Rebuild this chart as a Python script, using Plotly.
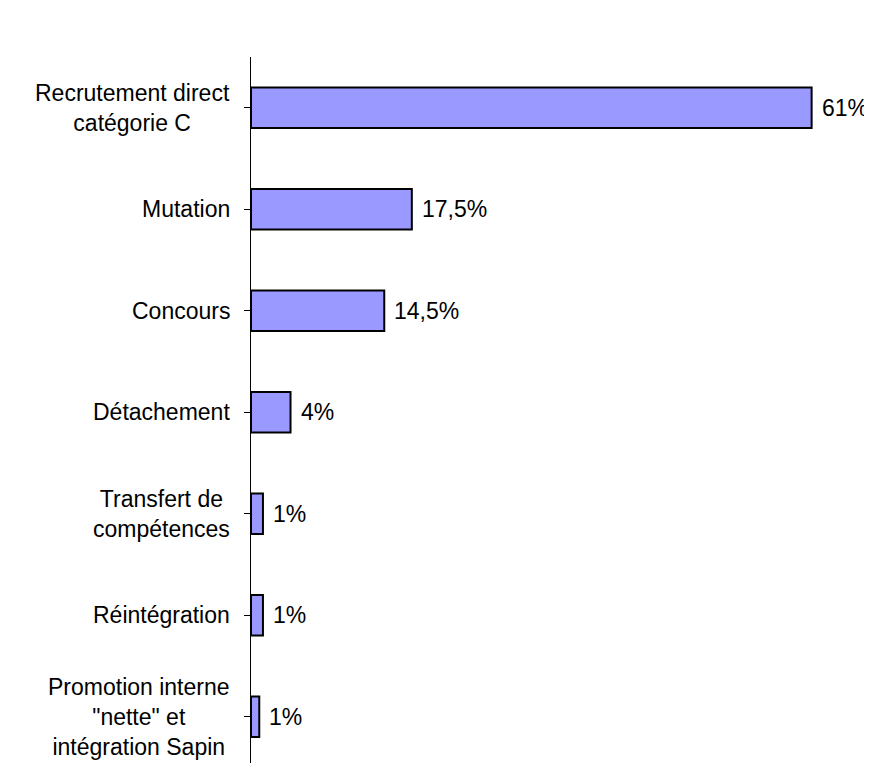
import plotly.graph_objects as go

# categories from bottom to top (plotly puts index 0 at the bottom)
categories = [
    "Promotion interne<br>\"nette\" et<br>intégration Sapin",
    "Réintégration",
    "Transfert de<br>compétences",
    "Détachement",
    "Concours",
    "Mutation",
    "Recrutement direct<br>catégorie C",
]
values = [0.9, 1.3, 1.3, 4.3, 14.5, 17.5, 61]
value_labels = ["1%", "1%", "1%", "4%", "14,5%", "17,5%", "61%"]

FONT = "Liberation Sans, Arial, sans-serif"

fig = go.Figure()
fig.add_trace(go.Bar(
    y=list(range(len(categories))),
    x=values,
    orientation="h",
    width=0.4,
    marker=dict(color="#9999FF", line=dict(color="black", width=2)),
    hoverinfo="skip",
))

annotations = []
for i, (cat, v, lab) in enumerate(zip(categories, values, value_labels)):
    # category label, lines centred like the original
    annotations.append(dict(
        x=0, xref="paper", y=i, yref="y",
        text=cat, showarrow=False, xanchor="right", yanchor="middle",
        align="center", xshift=-19,
        font=dict(family=FONT, size=23, color="black"),
    ))
    # value label right of the bar
    annotations.append(dict(
        x=v, xref="x", y=i, yref="y",
        text=lab, showarrow=False, xanchor="left", yanchor="middle",
        xshift=8,
        font=dict(family=FONT, size=23, color="black"),
    ))

# the page body has an 8px margin, so the figure is a bit smaller
fig.update_layout(
    width=864, height=755,
    margin=dict(l=243, r=0, t=49, b=0),
    paper_bgcolor="white", plot_bgcolor="white",
    showlegend=False,
    annotations=annotations,
    font=dict(family=FONT, size=23, color="black"),
)
fig.update_xaxes(range=[0, 67.57], visible=False, fixedrange=True)
fig.update_yaxes(
    range=[-0.455, 6.5],
    tickmode="array", tickvals=list(range(len(categories))),
    showticklabels=False,
    ticks="outside", ticklen=6, tickwidth=1, tickcolor="black",
    tickson="boundaries",
    showline=True, linecolor="black", linewidth=1,
    showgrid=False, zeroline=False, fixedrange=True,
)

fig.write_html("out.html")
